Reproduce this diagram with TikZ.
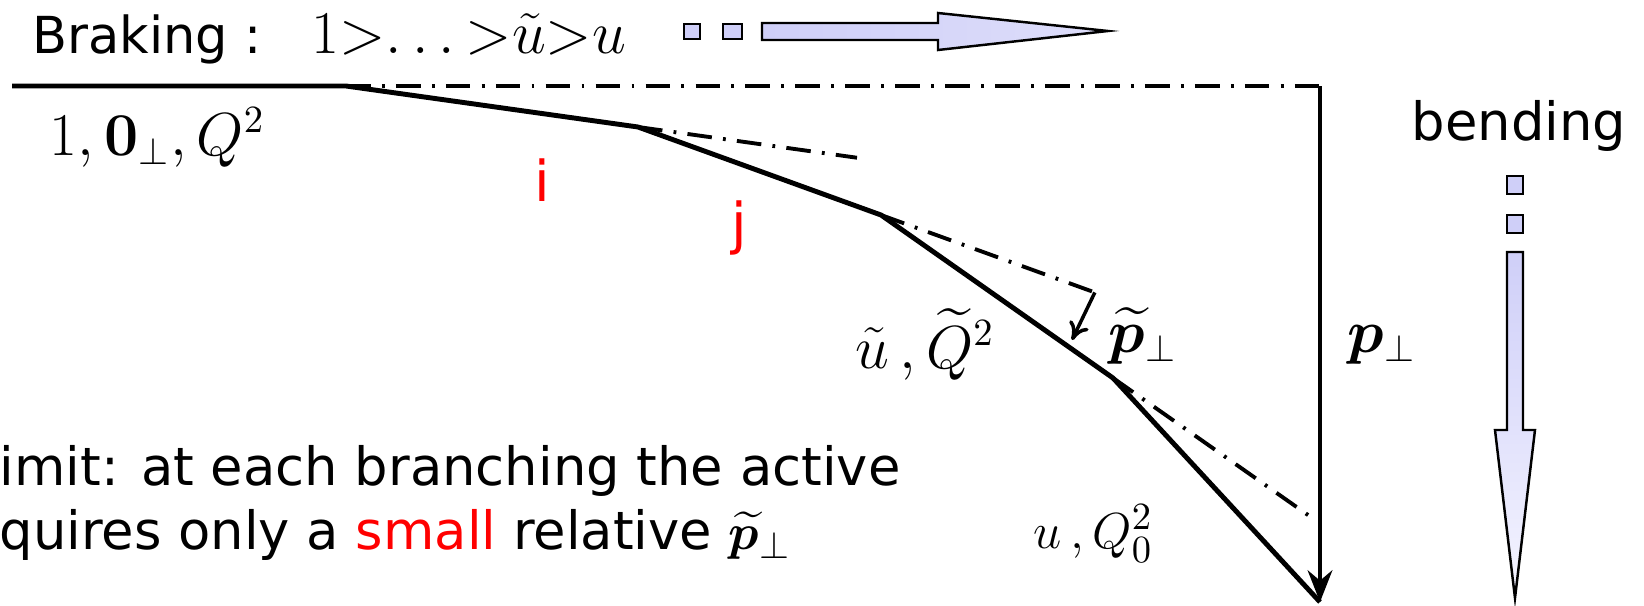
\documentclass[tikz,border=0pt]{standalone}
\usepackage[no-math]{fontspec}
\setmainfont{DejaVu Sans}
\usepackage{amsmath,bm}
\usetikzlibrary{arrows.meta, positioning, calc}
\definecolor{lilac}{HTML}{CFCFF8}
\definecolor{pale}{HTML}{F4F4FF}

\begin{document}
\begin{tikzpicture}[
  x=0.01cm, y=-0.01cm,
  leg/.style={line width=1.4pt},
  guide/.style={line width=1.1pt, dash pattern=on 7pt off 3.2pt on 0.8pt off 3.2pt},
  txt/.style={inner sep=0pt, anchor=base west, font=\fontsize{14.5}{17}\selectfont},
  note/.style={inner sep=0pt, anchor=base west, align=left, font=\fontsize{15}{18}\selectfont},
  mth/.style={inner sep=0pt, anchor=base west, font=\fontsize{16}{19}\selectfont},
  idx/.style={inner sep=0pt, text=red, font=\fontsize{16}{19}\selectfont},
  bar/.style={draw, line width=0.7pt},
]
  \useasboundingbox (0,0) rectangle (1644,606);

  % kinks of the branching line
  \coordinate (in) at (12,86);
  \coordinate (k0) at (346,86);
  \coordinate (k1) at (638,127);
  \coordinate (k2) at (881,215);
  \coordinate (k3) at (1113,378);
  \coordinate (corner) at (1320,86);
  \coordinate (out) at (1320,602);
  \coordinate (e1) at ($(k0)!1.75!(k1)$);
  \coordinate (e2) at ($(k1)!1.88!(k2)$);
  \coordinate (e3) at ($(k2)!1.88!(k3)$);
  \coordinate (e2foot) at (1072,340);

  \draw[leg] (in) -- (k0) -- (k1) -- (k2) -- (k3) -- (out);
  \draw[guide] (k0) -- (corner);
  \draw[guide] (k1) -- (e1);
  \draw[guide] (k2) -- (e2);
  \draw[guide] (k3) -- (e3);
  \draw[line width=1pt, -{To[length=5pt,width=6pt]}] (e2) -- (e2foot);
  \draw[line width=1.2pt, -{Stealth[length=9pt,width=7pt]}] (corner) -- (out);

  % labels
  \node[txt] (braking) at (32,54) {Braking :};
  \node[mth] (order) at (311,54) {$1{>}\ldotp\ldotp\ldotp{>}\tilde{u}{>}u$};
  \node[mth] (start) at (49,155) {$1,\mathbf{0}_\perp,Q^2$};
  \node[idx] (i) at (542,180) {i};
  \node[idx] (j) at (739,228) {j};
  \node[mth] (mid) at (855,368) {$\tilde{u}\,,\widetilde{Q}^2$};
  \node[mth] (rel) at (1108,352) {$\widetilde{\bm{p}}_\perp$};
  \node[mth] (tot) at (1347,352) {$\bm{p}_\perp$};
  \node[mth, font=\fontsize{15}{18}\selectfont] (fin) at (1033,548) {$u\,,Q_0^2$};
  \node[txt, font=\fontsize{15}{18}\selectfont] (bending) at (1411,140) {bending};
  \node[note] (limit) at (-1,549) {imit: at each branching the active\\quires only a \textcolor{red}{small} relative $\widetilde{\bm{p}}_\perp$};

  % block arrows
  \draw[bar, fill=lilac] (684,24) rectangle (700,39);
  \draw[bar, fill=lilac] (723,24) rectangle (742,39);
  \draw[bar, left color=lilac, right color=lilac!70!white] (762,23) -- (938,23) -- (938,13) -- (1108,31) -- (938,50) -- (938,40) -- (762,40) -- cycle;
  \draw[bar, fill=lilac] (1507,176) rectangle (1523,194);
  \draw[bar, fill=lilac] (1507,215) rectangle (1523,233);
  \draw[bar, top color=lilac, bottom color=pale] (1507,252) -- (1523,252) -- (1523,430) -- (1535,430) -- (1515,598) -- (1495,430) -- (1507,430) -- cycle;
\end{tikzpicture}
\end{document}
